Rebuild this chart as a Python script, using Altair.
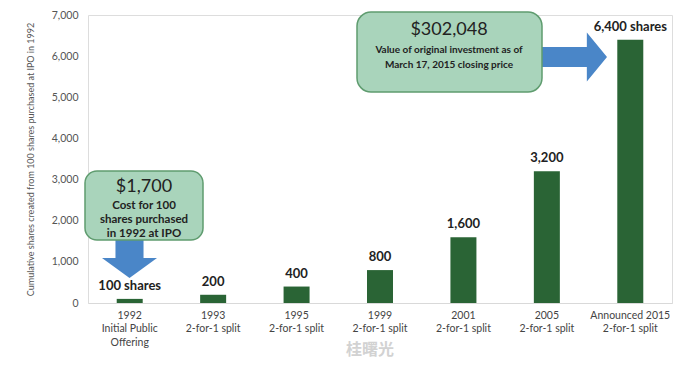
import altair as alt
import pandas as pd

categories = ["1992|Initial Public|Offering", "1993|2-for-1 split", "1995|2-for-1 split",
              "1999|2-for-1 split", "2001|2-for-1 split", "2005|2-for-1 split",
              "Announced 2015|2-for-1 split"]
shares = [100, 200, 400, 800, 1600, 3200, 6400]
bar_labels = ["100 shares", "200", "400", "800", "1,600", "3,200", "6,400 shares"]
y_ticks = [0, 1000, 2000, 3000, 4000, 5000, 6000, 7000]

FONT = "Lato"
BAR = "#2a6435"
BOX_FILL = "#a9d4bb"
BOX_STROKE = "#5f9c6f"
ARROW = "#4a86c8"

df = pd.DataFrame({"cat": categories, "shares": shares, "label": bar_labels})

x = alt.X("cat:N", sort=categories, title=None,
          axis=alt.Axis(labelExpr="split(datum.label, '|')", labelAngle=0,
                        labelFontSize=10.5, labelColor="#444", labelLineHeight=13.5,
                        labelPadding=7, ticks=False, domainColor="#d9d9d9",
                        labelFont=FONT))
y = alt.Y("shares:Q", scale=alt.Scale(domain=[0, 7000], nice=False),
          title="Cumulative shares created from 100 shares purchased at IPO in 1992",
          axis=alt.Axis(values=y_ticks, format=",.0f", grid=False,
                        domain=False, ticks=False, labelFontSize=10.5, labelColor="#555",
                        labelPadding=10, titleFontSize=9, titleColor="#555",
                        titleFontWeight="normal", titlePadding=16, labelFont=FONT,
                        titleFont=FONT))

bars = alt.Chart(df).mark_bar(size=26, color=BAR).encode(x=x, y=y)
labels = alt.Chart(df).mark_text(dy=-6, fontSize=13, fontWeight="bold", color="#222",
                                 baseline="bottom", font=FONT).encode(
    x=alt.X("cat:N", sort=categories), y="shares:Q", text="label:N")

# annotation layers (pixel positioned callouts)
down_arrow = "M -0.51 -0.836 L 0.51 -0.836 L 0.51 0.109 L 1 0.109 L 0 0.836 L -1 0.109 L -0.51 0.109 Z"
right_arrow = "M -1 -0.28 L 0.44 -0.28 L 0.44 -0.68 L 1 0 L 0.44 0.68 L 0.44 0.28 L -1 0.28 Z"

ann = pd.DataFrame({"k": [0]})
arrow1 = alt.Chart(ann).mark_point(shape=down_arrow, filled=True, size=3025, color=ARROW,
                                   opacity=1, strokeWidth=0).encode(
    x=alt.value(41.5), y=alt.value(240))
arrow2 = alt.Chart(ann).mark_point(shape=right_arrow, filled=True, size=72 * 72, color=ARROW,
                                   opacity=1, strokeWidth=0).encode(
    x=alt.value(483), y=alt.value(42))
box1 = alt.Chart(ann).mark_rect(cornerRadius=12, fill=BOX_FILL, stroke=BOX_STROKE,
                                strokeWidth=1.5).encode(
    x=alt.value(-3), x2=alt.value(115), y=alt.value(156), y2=alt.value(225))
box2 = alt.Chart(ann).mark_rect(cornerRadius=14, fill=BOX_FILL, stroke=BOX_STROKE,
                                strokeWidth=1.5).encode(
    x=alt.value(269), x2=alt.value(454), y=alt.value(-3), y2=alt.value(77))

def txt(s, px, py, size, weight="normal"):
    return alt.Chart(ann).mark_text(text=s, fontSize=size, fontWeight=weight, color="#222",
                                    font=FONT, align="center", baseline="middle").encode(
        x=alt.value(px), y=alt.value(py))

texts = [
    txt("$1,700", 56, 172, 18),
    txt("Cost for 100", 56, 191, 11.5, "bold"),
    txt("shares purchased", 56, 205, 11.5, "bold"),
    txt("in 1992 at IPO", 56, 219, 11.5, "bold"),
    txt("$302,048", 361, 15, 18),
    txt("Value of original investment as of", 361, 35, 10, "bold"),
    txt("March 17, 2015 closing price", 361, 50, 10, "bold"),
]
watermark = alt.Chart(ann).mark_text(text="桂曙光", fontSize=16, color="#d2d2d2",
                                     font="Noto Sans CJK SC", fontWeight="bold",
                                     align="left", baseline="middle").encode(
    x=alt.value(258), y=alt.value(335))

chart = alt.layer(bars, labels, arrow1, arrow2, box1, box2, *texts, watermark).properties(
    width=584, height=288,
    autosize=alt.AutoSizeParams(type="none"),
    padding={"left": 80, "top": 7, "right": 20, "bottom": 60},
).configure_view(stroke=None).configure(background="white")

chart.save("out.html", embed_options={"renderer": "svg", "actions": False})
